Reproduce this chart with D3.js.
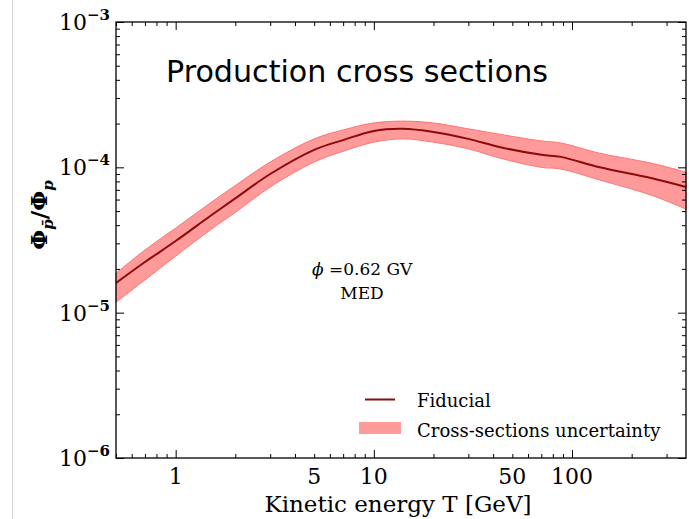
<!DOCTYPE html>
<html>
<head>
<meta charset="utf-8">
<script src="https://cdn.jsdelivr.net/npm/d3@7"></script>
<style>
  body { margin: 0; background: #fff; }
  svg text { font-family: "DejaVu Serif", "Liberation Serif", serif; }
</style>
</head>
<body>
<div id="chart"></div>
<script>
// data
var energy = [0.5, 0.7, 1, 1.5, 2, 3, 5, 7, 10, 14, 20, 30, 43, 70, 88, 138, 250, 376];
var fiducial = [1.60e-5, 2.23e-5, 3.11e-5, 4.64e-5, 6.12e-5, 9.0e-5, 1.32e-4, 1.54e-4, 1.78e-4, 1.84e-4,
    1.75e-4, 1.57e-4, 1.38e-4, 1.22e-4, 1.18e-4, 1.00e-4, 8.44e-5, 7.32e-5];
var bandUpper = [1.87e-5, 2.70e-5, 3.82e-5, 5.70e-5, 7.50e-5, 1.088e-4, 1.57e-4, 1.81e-4, 2.02e-4, 2.08e-4,
    2.02e-4, 1.84e-4, 1.69e-4, 1.52e-4, 1.47e-4, 1.25e-4, 1.07e-4, 9.28e-5];
var bandLower = [1.18e-5, 1.68e-5, 2.45e-5, 3.72e-5, 4.90e-5, 7.32e-5, 1.088e-4, 1.29e-4, 1.49e-4, 1.57e-4,
    1.49e-4, 1.34e-4, 1.16e-4, 1.00e-4, 9.73e-5, 8.18e-5, 6.45e-5, 5.16e-5];

var xLabels = [1, 5, 10, 50, 100];
var yMajor = [1e-6, 1e-5, 1e-4, 1e-3];
var yExponents = ['\u22126', '\u22125', '\u22124', '\u22123'];

var svgWidth = 689;
var svgHeight = 519;

var margins = { top: 22, bottom: 61, right: 3, left: 116 };
var width = svgWidth - margins.left - margins.right;
var height = svgHeight - margins.top - margins.bottom;

var svg = d3.select('#chart')
    .append('svg')
    .attr('width', svgWidth)
    .attr('height', svgHeight);

// slide border line on the left
svg.append('line')
    .attr('x1', 12.5).attr('x2', 12.5)
    .attr('y1', 0).attr('y2', svgHeight)
    .attr('stroke', '#d0d0d0')
    .attr('stroke-width', 1);

var chartGroup = svg.append('g')
    .attr('transform', `translate(${margins.left}, ${margins.top})`);

// scales
var xScale = d3.scaleLog()
    .domain([0.5, 376])
    .range([0, width]);

var yScale = d3.scaleLog()
    .domain([1e-6, 1e-3])
    .range([height, 0]);

var rows = energy.map(function(t, i) {
    return { t: t, mid: fiducial[i], hi: bandUpper[i], lo: bandLower[i] };
});

var smooth = d3.curveCatmullRom.alpha(0.5);

// uncertainty band
var band = d3.area()
    .x(d => xScale(d.t))
    .y0(d => yScale(d.lo))
    .y1(d => yScale(d.hi))
    .curve(smooth);

chartGroup.append('path')
    .datum(rows)
    .attr('d', band)
    .attr('fill', '#ff9a9a')
    .attr('stroke', '#ff7474')
    .attr('stroke-width', 1);

// fiducial line
var line = d3.line()
    .x(d => xScale(d.t))
    .y(d => yScale(d.mid))
    .curve(smooth);

chartGroup.append('path')
    .datum(rows)
    .attr('d', line)
    .attr('fill', 'none')
    .attr('stroke', '#8b0a0a')
    .attr('stroke-width', 2);

// ticks
var xMinor = [];
[0.1, 1, 10, 100].forEach(function(dec) {
    for (var k = 2; k <= 9; k++) {
        var v = k * dec;
        if (v >= 0.5 && v <= 376) xMinor.push(v);
    }
});
var xMajorTicks = [1, 10, 100];

var yMinor = [];
[1e-6, 1e-5, 1e-4].forEach(function(dec) {
    for (var k = 2; k <= 9; k++) yMinor.push(k * dec);
});

function tickLayer(axis) {
    return function(g) {
        g.call(axis);
        g.select('.domain').remove();
        g.selectAll('text').remove();
        g.selectAll('line').attr('stroke', '#000');
    };
}

chartGroup.append('g')
    .attr('transform', `translate(0, ${height})`)
    .call(tickLayer(d3.axisBottom(xScale).tickValues(xMinor).tickSize(-4)));
chartGroup.append('g')
    .attr('transform', `translate(0, ${height})`)
    .call(tickLayer(d3.axisBottom(xScale).tickValues(xMajorTicks).tickSize(-8)));
chartGroup.append('g')
    .call(tickLayer(d3.axisTop(xScale).tickValues(xMinor).tickSize(-4)));
chartGroup.append('g')
    .call(tickLayer(d3.axisTop(xScale).tickValues(xMajorTicks).tickSize(-8)));

chartGroup.append('g')
    .call(tickLayer(d3.axisLeft(yScale).tickValues(yMinor).tickSize(-4)));
chartGroup.append('g')
    .call(tickLayer(d3.axisLeft(yScale).tickValues(yMajor).tickSize(-8)));
chartGroup.append('g')
    .attr('transform', `translate(${width}, 0)`)
    .call(tickLayer(d3.axisRight(yScale).tickValues(yMinor).tickSize(-4)));
chartGroup.append('g')
    .attr('transform', `translate(${width}, 0)`)
    .call(tickLayer(d3.axisRight(yScale).tickValues(yMajor).tickSize(-8)));

// frame
chartGroup.append('rect')
    .attr('x', 0).attr('y', 0)
    .attr('width', width).attr('height', height)
    .attr('fill', 'none')
    .attr('stroke', '#000')
    .attr('stroke-width', 1.3);

// x tick labels
chartGroup.selectAll('.xlab')
    .data(xLabels)
    .enter()
    .append('text')
    .attr('class', 'xlab')
    .attr('x', d => xScale(d))
    .attr('y', height + 26)
    .style('font-size', '22px')
    .style('text-anchor', 'middle')
    .text(d => d);

// y tick labels, 10 with superscript
var yLab = chartGroup.selectAll('.ylab')
    .data(yMajor)
    .enter()
    .append('text')
    .attr('class', 'ylab')
    .attr('x', -6)
    .attr('y', d => yScale(d) + 8)
    .style('text-anchor', 'end')
    .style('font-size', '22px');
yLab.append('tspan').text('10');
yLab.append('tspan')
    .attr('dy', -10)
    .style('font-size', '15px')
    .style('font-weight', 'bold')
    .text((d, i) => yExponents[i]);

// axis titles
chartGroup.append('text')
    .attr('x', width / 2 - 3)
    .attr('y', height + 54)
    .style('font-size', '23px')
    .style('text-anchor', 'middle')
    .text('Kinetic energy T [GeV]');

var yTitle = svg.append('text')
    .attr('transform', 'translate(47, 215) rotate(-90)')
    .style('font-size', '23px')
    .style('font-weight', 'bold')
    .style('text-anchor', 'middle');
yTitle.append('tspan').text('\u03A6');
yTitle.append('tspan').attr('dy', 6).style('font-size', '15px').style('font-style', 'italic').text('p\u0304');
yTitle.append('tspan').attr('dy', -6).text('/\u03A6');
yTitle.append('tspan').attr('dy', 6).style('font-size', '15px').style('font-style', 'italic').text('p');

// big title
svg.append('text')
    .attr('x', 166)
    .attr('y', 82)
    .attr('textLength', 382)
    .attr('lengthAdjust', 'spacingAndGlyphs')
    .style('font-family', '"Comic Sans MS", "DejaVu Sans", sans-serif')
    .style('font-size', '31px')
    .text('Production cross sections');

// annotations
var phi = svg.append('text')
    .attr('x', 312)
    .attr('y', 275)
    .style('font-size', '17px');
phi.append('tspan').style('font-style', 'italic').text('\u03D5');
phi.append('tspan').text(' =0.62 GV');

svg.append('text')
    .attr('x', 362)
    .attr('y', 299)
    .style('font-size', '17px')
    .style('text-anchor', 'middle')
    .text('MED');

// legend
svg.append('line')
    .attr('x1', 365).attr('x2', 395)
    .attr('y1', 399.5).attr('y2', 399.5)
    .attr('stroke', '#8b0a0a')
    .attr('stroke-width', 2);
svg.append('text')
    .attr('x', 417).attr('y', 407)
    .style('font-size', '18px')
    .text('Fiducial');

svg.append('rect')
    .attr('x', 359).attr('y', 422)
    .attr('width', 42).attr('height', 12)
    .attr('fill', '#ff9a9a');
svg.append('text')
    .attr('x', 417).attr('y', 437)
    .style('font-size', '18px')
    .text('Cross-sections uncertainty');
</script>
</body>
</html>
